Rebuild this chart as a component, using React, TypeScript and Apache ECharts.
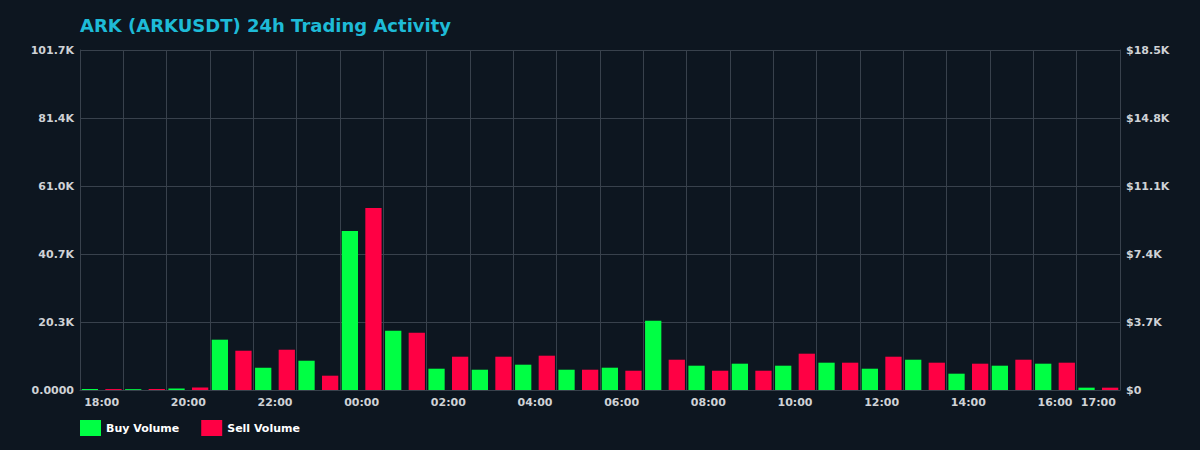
import React, { useEffect, useRef } from 'react';
import * as echarts from 'echarts';

const hours = [
  '18:00', '19:00', '20:00', '21:00', '22:00', '23:00', '00:00', '01:00',
  '02:00', '03:00', '04:00', '05:00', '06:00', '07:00', '08:00', '09:00',
  '10:00', '11:00', '12:00', '13:00', '14:00', '15:00', '16:00', '17:00',
];
const buyVolume = [
  300, 250, 450, 15050, 6670, 8760, 47560, 17740, 6370, 6070, 7570, 6070,
  6670, 20730, 7270, 7870, 7270, 8170, 6370, 9060, 4880, 7270, 7870, 700,
];
const sellVolume = [
  280, 300, 750, 11750, 12050, 4280, 54440, 17140, 9960, 9960, 10260, 6070,
  5770, 9060, 5770, 5770, 10860, 8170, 9960, 8170, 7870, 9060, 8170, 700,
];
const volumeMax = 101700;
const usdMax = 18500;

const font = 'DejaVu Sans';
const gridColor = '#38414c';
const labelColor = '#cfd2d6';

const App = () => {
  const chartRef = useRef<any>(null);

  useEffect(() => {
    document.body.style.margin = '0';
    const chart = echarts.init(chartRef.current, null, { renderer: 'svg' });

    const option: any = {
      animation: false,
      backgroundColor: '#0d1620',
      title: {
        text: 'ARK (ARKUSDT) 24h Trading Activity',
        left: 75,
        top: 11,
        textStyle: { color: '#1ebbd7', fontSize: 18, fontWeight: 'bold', fontFamily: font },
      },
      legend: {
        left: 75,
        top: 415,
        itemWidth: 21,
        itemHeight: 16,
        itemGap: 22,
        icon: 'rect',
        textStyle: { color: '#ffffff', fontSize: 11, fontWeight: 'bold', fontFamily: font },
        data: ['Buy Volume', 'Sell Volume'],
      },
      grid: { left: 80, right: 80, top: 50, bottom: 60 },
      xAxis: {
        type: 'category',
        data: hours,
        axisLine: { show: true, lineStyle: { color: gridColor } },
        axisTick: { show: false },
        axisLabel: {
          interval: (index: number) => index % 2 === 0 || index === hours.length - 1,
          color: labelColor,
          fontSize: 11,
          fontWeight: 'bold',
          fontFamily: font,
          margin: 7,
        },
        splitLine: { show: true, interval: 0, lineStyle: { color: gridColor, width: 1 } },
      },
      yAxis: [
        {
          type: 'value',
          min: 0,
          max: volumeMax,
          interval: volumeMax / 5,
          axisLine: { show: true, lineStyle: { color: gridColor } },
          axisLabel: {
            color: labelColor,
            fontSize: 11,
            fontWeight: 'bold',
            fontFamily: font,
            margin: 6,
            formatter: (v: number) => (v === 0 ? '0.0000' : (v / 1000).toFixed(1) + 'K'),
          },
          splitLine: { show: true, lineStyle: { color: gridColor, width: 1 } },
        },
        {
          type: 'value',
          min: 0,
          max: usdMax,
          interval: usdMax / 5,
          position: 'right',
          axisLine: { show: true, lineStyle: { color: gridColor } },
          axisLabel: {
            color: labelColor,
            fontSize: 11,
            fontWeight: 'bold',
            fontFamily: font,
            margin: 6,
            formatter: (v: number) => (v === 0 ? '$0' : '$' + (v / 1000).toFixed(1) + 'K'),
          },
          splitLine: { show: false },
        },
      ],
      series: [
        {
          name: 'Buy Volume',
          type: 'bar',
          data: buyVolume,
          barCategoryGap: '8%',
          barGap: '45%',
          itemStyle: { color: '#00ff44' },
        },
        {
          name: 'Sell Volume',
          type: 'bar',
          data: sellVolume,
          barCategoryGap: '8%',
          barGap: '45%',
          itemStyle: { color: '#ff0044' },
        },
      ],
    };

    chart.setOption(option);

    return () => {
      chart.dispose();
    };
  }, []);

  return <div ref={chartRef} style={{ width: '1200px', height: '450px' }} />;
};

export default App;
